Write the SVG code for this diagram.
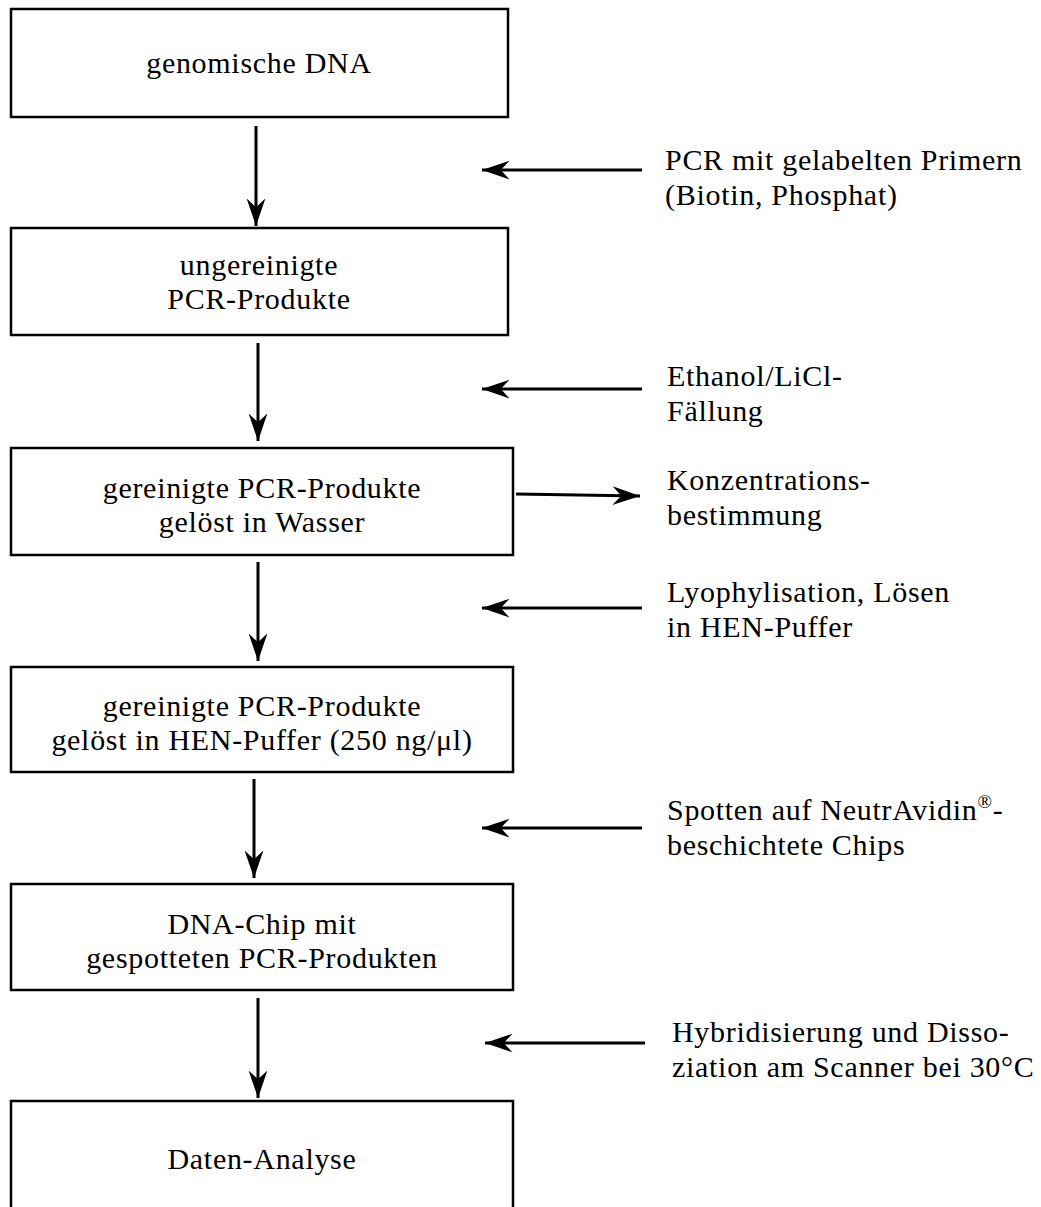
<svg xmlns="http://www.w3.org/2000/svg" width="1041" height="1207" viewBox="0 0 1041 1207">
  <style>
    .box { fill: #fff; stroke: #000; stroke-width: 2.5; }
    .lbl { font-family: "Liberation Serif", "DejaVu Serif", serif; font-size: 30px; letter-spacing: 0.7px; fill: #000; }
    .mid { text-anchor: middle; }
    .edge { stroke: #000; stroke-width: 3; fill: none; marker-end: url(#head); }
  </style>
  <defs>
    <marker id="head" markerUnits="userSpaceOnUse" markerWidth="30" markerHeight="20" viewBox="-22 -8 24 16" refX="0" refY="0" orient="auto">
      <path d="M0,0 L-22,-7.5 L-15,0 L-22,7.5 Z" fill="#000"/>
    </marker>
  </defs>
  <rect width="1041" height="1207" fill="#fff"/>

  <g id="n1">
    <rect class="box" x="11" y="9" width="497" height="108"/>
    <text class="lbl mid" x="259" y="73">genomische DNA</text>
  </g>
  <g id="n2">
    <rect class="box" x="11" y="228" width="497" height="107"/>
    <text class="lbl mid" x="259" y="275">ungereinigte</text>
    <text class="lbl mid" x="259" y="309">PCR-Produkte</text>
  </g>
  <g id="n3">
    <rect class="box" x="11" y="448" width="502" height="107"/>
    <text class="lbl mid" x="262" y="498">gereinigte PCR-Produkte</text>
    <text class="lbl mid" x="262" y="532">gelöst in Wasser</text>
  </g>
  <g id="n4">
    <rect class="box" x="11" y="667" width="502" height="105"/>
    <text class="lbl mid" x="262" y="716">gereinigte PCR-Produkte</text>
    <text class="lbl mid" x="262" y="750">gelöst in HEN-Puffer (250 ng/μl)</text>
  </g>
  <g id="n5">
    <rect class="box" x="11" y="884" width="502" height="106"/>
    <text class="lbl mid" x="262" y="934">DNA-Chip mit</text>
    <text class="lbl mid" x="262" y="968">gespotteten PCR-Produkten</text>
  </g>
  <g id="n6">
    <rect class="box" x="11" y="1101" width="502" height="120"/>
    <text class="lbl mid" x="262" y="1169">Daten-Analyse</text>
  </g>

  <g id="steps">
    <text class="lbl" x="665" y="170">PCR mit gelabelten Primern</text>
    <text class="lbl" x="665" y="205">(Biotin, Phosphat)</text>
    <text class="lbl" x="667" y="386">Ethanol/LiCl-</text>
    <text class="lbl" x="667" y="421">Fällung</text>
    <text class="lbl" x="667" y="490">Konzentrations-</text>
    <text class="lbl" x="667" y="525">bestimmung</text>
    <text class="lbl" x="667" y="602">Lyophylisation, Lösen</text>
    <text class="lbl" x="667" y="637">in HEN-Puffer</text>
    <text class="lbl" x="667" y="820">Spotten auf NeutrAvidin<tspan font-size="19" dy="-12">®</tspan><tspan dy="12">-</tspan></text>
    <text class="lbl" x="667" y="855">beschichtete Chips</text>
    <text class="lbl" x="672" y="1042">Hybridisierung und Disso-</text>
    <text class="lbl" x="672" y="1077">ziation am Scanner bei 30°C</text>
  </g>

  <g id="connectors">
    <line class="edge" x1="256" y1="126" x2="256" y2="226"/>
    <line class="edge" x1="258" y1="343" x2="258" y2="441"/>
    <line class="edge" x1="258" y1="562" x2="258" y2="661"/>
    <line class="edge" x1="254" y1="779" x2="254" y2="878"/>
    <line class="edge" x1="258" y1="998" x2="258" y2="1098"/>
    <line class="edge" x1="642" y1="170" x2="482" y2="170"/>
    <line class="edge" x1="642" y1="389" x2="482" y2="389"/>
    <line class="edge" x1="642" y1="608" x2="482" y2="608"/>
    <line class="edge" x1="642" y1="828" x2="482" y2="828"/>
    <line class="edge" x1="645" y1="1043" x2="485" y2="1043"/>
    <line class="edge" x1="516" y1="494" x2="640" y2="496"/>
  </g>
</svg>
